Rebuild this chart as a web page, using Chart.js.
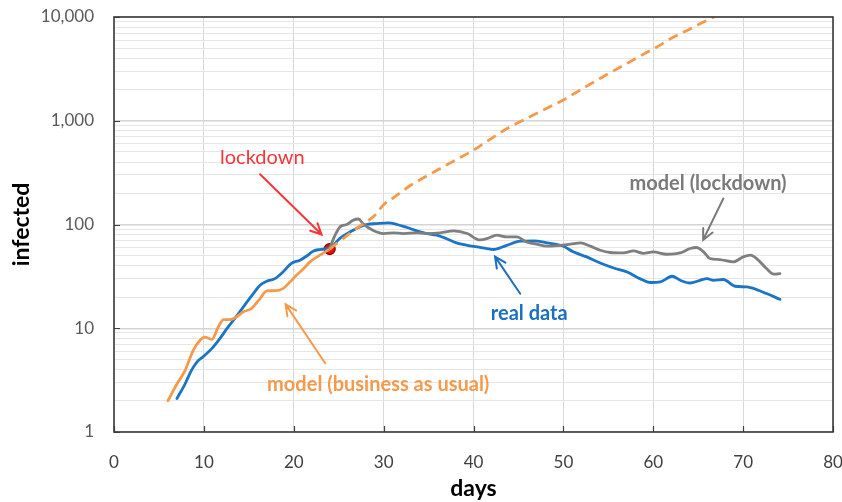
<!DOCTYPE html>
<html>
<head>
<meta charset="utf-8">
<script src="https://cdn.jsdelivr.net/npm/chart.js@4.4.1/dist/chart.umd.min.js"></script>
<style>
  html, body { margin: 0; padding: 0; background: #ffffff; }
  #wrap { width: 842px; height: 502px; }
</style>
</head>
<body>
<div id="wrap"><canvas id="chart" width="842" height="502"></canvas></div>
<script>
// Model run without intervention, up to the lockdown day
const bauDays   = [6, 7, 7.9, 8.8, 9.6, 10.1, 10.9, 11.6, 12.2, 12.9, 13.7, 14.4, 15.3, 16.25, 17, 17.9, 18.8, 19.6, 20.3, 21.1, 21.8, 22.6, 23.3, 24];
const bauValues = [2, 2.9, 3.9, 6.1, 7.7, 8.2, 7.8, 10.3, 12.1, 12.1, 13, 14.4, 15.5, 19.3, 22.9, 23, 24.1, 28, 32.4, 37.6, 43.6, 48.7, 53.2, 58];

// Same model carried on past the lockdown (dashed)
const projDays   = [24, 25, 26, 27, 28, 29, 30, 31, 32, 33, 34, 35, 36, 37, 38, 39, 40, 41, 42, 43, 44, 45, 46, 47, 48, 49, 50, 51, 52, 53, 54, 55, 56, 57, 58, 59, 60, 61, 62, 63, 64, 65, 66, 67];
const projValues = [58, 68, 79, 92, 105, 122, 155, 179, 207, 239, 268, 300, 335, 374, 418, 466, 520, 593, 676, 769, 869, 961, 1062, 1175, 1298, 1435, 1585, 1784, 2009, 2259, 2541, 2838, 3170, 3540, 3954, 4416, 4932, 5508, 6252, 6887, 7586, 8433, 9311, 10300];

// Observed infections
const realDays   = [7, 7.9, 8.6, 9.2, 9.9, 10.9, 11.8, 12.7, 13.7, 14.6, 15.5, 16.25, 17, 17.9, 18.8, 19.7, 20.7, 21.4, 22.2, 22.9, 23.7, 24, 25.1, 26.3, 27.4, 28.1, 29.2, 30.5, 31.5, 32.6, 33.7, 34.8, 35.9, 37, 38.1, 39.3, 40.4, 41.5, 42.2, 43.7, 45.2, 46.7, 48.2, 50, 51.1, 52.6, 54.1, 55.6, 57.1, 58.5, 59.7, 60.8, 62.1, 63, 64.1, 65.2, 66, 66.7, 67.8, 69.1, 70.4, 71.5, 72.6, 74.1];
const realValues = [2.1, 2.9, 3.9, 4.7, 5.3, 6.4, 8, 10.3, 13.3, 17, 21.6, 26, 28.4, 30.1, 34.9, 42, 45.3, 49.4, 55.6, 57.4, 58.5, 59, 73, 85, 95, 100, 102, 103.6, 100, 93.5, 86.7, 81.8, 78.9, 73, 66.5, 63, 60.8, 58.6, 57.4, 63, 69, 69.5, 66.5, 61.8, 54.5, 48.7, 42.6, 38.1, 34.9, 30.1, 27.6, 28, 31.7, 29, 27.3, 29, 30.1, 29, 29.5, 25.4, 25, 23.6, 21.6, 19];

// Model with the lockdown applied from day 24
const lockDays   = [24, 24.6, 25.2, 25.9, 26.6, 27.2, 27.7, 28.8, 30, 31.1, 32.2, 33.7, 34.8, 36.3, 37.8, 39.3, 40.7, 41.5, 42.6, 43.7, 44.8, 45.9, 47, 48.2, 49.6, 50.8, 51.9, 53, 54.1, 55.2, 56.7, 57.8, 58.9, 60, 61.5, 63, 64.1, 64.8, 65.6, 66.3, 67.4, 68.9, 70, 70.8, 71.5, 72.6, 73.4, 74.1];
const lockValues = [59, 78.9, 96, 100, 110, 113, 102, 88, 81.8, 83, 81.8, 83, 81.8, 83, 86.7, 81.8, 71, 73, 78.9, 75.9, 75.9, 67.9, 64.6, 61.8, 63, 64.6, 66.5, 61.8, 56.5, 53.7, 53.2, 55.6, 52.7, 54.5, 51.7, 53.2, 58.7, 60, 54.5, 47, 45.9, 43.6, 48.7, 50.6, 47, 37.6, 33.2, 33.6];

// Lockdown marker
const lockdownDay = 24;
const lockdownValue = 58;

// Axis ticks
const xTicks = [0, 10, 20, 30, 40, 50, 60, 70, 80];
const yDecades = [1, 10, 100, 1000, 10000];

const toPoints = (xs, ys) => xs.map((x, i) => ({ x: x, y: ys[i] }));

const BLUE = '#1a75c4';
const ORANGE = '#f59a4a';
const GREY = '#7f7f7f';
const FONT = 'Lato, "Open Sans", sans-serif';

// Callouts, placed in data units (day, infected)
const callouts = [
  { text: 'lockdown', color: '#f4363a', weight: 'normal', size: 20, at: [16.5, 446], from: [16.25, 305], to: [23.1, 80] },
  { text: 'model (lockdown)', color: '#7a7a7a', weight: 'bold', size: 20, at: [66.1, 250], from: [67.8, 178], to: [65.55, 71] },
  { text: 'real data', color: '#1a6fc0', weight: 'bold', size: 20, at: [46.2, 13.9], from: [45.2, 21.5], to: [42.4, 49] },
  { text: 'model (business as usual)', color: '#f59a4a', weight: 'bold', size: 20, at: [29.4, 2.88], from: [23.5, 4.6], to: [19.1, 17] }
];

const framePlugin = {
  id: 'frame',
  afterDatasetsDraw(chart) {
    const { ctx, chartArea: a, scales } = chart;
    ctx.save();
    // inner tick marks
    ctx.strokeStyle = '#404040';
    ctx.lineWidth = 1.2;
    ctx.beginPath();
    xTicks.forEach(v => {
      const px = Math.round(scales.x.getPixelForValue(v)) + 0.5;
      ctx.moveTo(px, a.bottom);
      ctx.lineTo(px, a.bottom - 6);
    });
    yDecades.forEach(v => {
      const py = Math.round(scales.y.getPixelForValue(v)) + 0.5;
      ctx.moveTo(a.left, py);
      ctx.lineTo(a.left + 6, py);
    });
    ctx.stroke();
    // plot border
    ctx.strokeStyle = '#3a3a3a';
    ctx.lineWidth = 1.6;
    ctx.strokeRect(a.left, a.top, a.right - a.left, a.bottom - a.top);
    ctx.restore();
  },
  afterDraw(chart) {
    const { ctx, scales } = chart;
    const px = d => [scales.x.getPixelForValue(d[0]), scales.y.getPixelForValue(d[1])];
    ctx.save();
    callouts.forEach(c => {
      ctx.font = `${c.weight} ${c.size}px ${FONT}`;
      ctx.fillStyle = c.color;
      ctx.textAlign = 'center';
      ctx.textBaseline = 'middle';
      const [tx, ty] = px(c.at);
      ctx.fillText(c.text, tx, ty);
      const [x1, y1] = px(c.from);
      const [x2, y2] = px(c.to);
      ctx.strokeStyle = c.color;
      ctx.lineWidth = 2;
      ctx.lineCap = 'round';
      ctx.beginPath();
      ctx.moveTo(x1, y1);
      ctx.lineTo(x2, y2);
      const ang = Math.atan2(y2 - y1, x2 - x1);
      const len = 12, spread = 0.45;
      ctx.moveTo(x2 - len * Math.cos(ang - spread), y2 - len * Math.sin(ang - spread));
      ctx.lineTo(x2, y2);
      ctx.lineTo(x2 - len * Math.cos(ang + spread), y2 - len * Math.sin(ang + spread));
      ctx.stroke();
    });
    ctx.restore();
  }
};

const lineStyle = {
  fill: false,
  pointRadius: 0,
  borderWidth: 2.8,
  cubicInterpolationMode: 'monotone',
  borderJoinStyle: 'round',
  borderCapStyle: 'round'
};

new Chart(document.getElementById('chart'), {
  type: 'line',
  data: {
    datasets: [
      Object.assign({ label: 'model (business as usual)', data: toPoints(projDays, projValues), borderColor: ORANGE, borderDash: [10, 6] }, lineStyle, { borderCapStyle: 'butt' }),
      Object.assign({ label: 'model (lockdown)', data: toPoints(lockDays, lockValues), borderColor: GREY }, lineStyle),
      Object.assign({ label: 'model (business as usual)', data: toPoints(bauDays, bauValues), borderColor: ORANGE }, lineStyle),
      Object.assign({ label: 'real data', data: toPoints(realDays, realValues), borderColor: BLUE }, lineStyle),
      {
        label: 'lockdown',
        data: [{ x: lockdownDay, y: lockdownValue }],
        showLine: false,
        pointRadius: 5.5,
        pointBackgroundColor: '#e8100c',
        pointBorderColor: '#7a0000',
        pointBorderWidth: 1.2
      }
    ]
  },
  options: {
    responsive: false,
    animation: false,
    devicePixelRatio: 1,
    layout: { padding: { top: 17, right: 9, left: 0, bottom: 0 } },
    plugins: { legend: { display: false }, tooltip: { enabled: false } },
    scales: {
      x: {
        type: 'linear',
        min: 0,
        max: 80,
        afterBuildTicks(s) { s.ticks = xTicks.map(v => ({ value: v })); },
        afterFit(s) { s.height = 70; s.paddingLeft = 0; s.paddingRight = 0; },
        grid: { color: '#d9d9d9', lineWidth: 1, drawTicks: false },
        border: { display: false },
        ticks: { padding: 20, color: '#404040', font: { family: FONT, size: 17 }, maxRotation: 0 },
        title: { display: true, text: 'days', color: '#000', padding: { top: 0, bottom: 0 }, font: { family: FONT, size: 23, weight: 'bold' } }
      },
      y: {
        type: 'logarithmic',
        min: 1,
        max: 10000,
        afterBuildTicks(s) {
          const t = [];
          for (let d = 0; d < yDecades.length - 1; d++) {
            for (let m = 1; m < 10; m++) t.push({ value: yDecades[d] * m });
          }
          t.push({ value: yDecades[yDecades.length - 1] });
          s.ticks = t;
        },
        afterFit(s) { s.width = 114; s.paddingTop = 0; s.paddingBottom = 0; },
        grid: {
          drawTicks: false,
          color: ctx => (yDecades.includes(ctx.tick.value) ? '#d4d4d4' : '#e6e6e6'),
          lineWidth: ctx => (yDecades.includes(ctx.tick.value) ? 1.5 : 1)
        },
        border: { display: false },
        ticks: {
          padding: 20,
          color: '#595959',
          autoSkip: false,
          font: { family: FONT, size: 17 },
          callback: v => (yDecades.includes(v) ? v.toLocaleString('en-US') : '')
        },
        title: { display: true, text: 'infected', color: '#000', padding: { top: 8, bottom: 0 }, font: { family: FONT, size: 23, weight: 'bold' } }
      }
    }
  },
  plugins: [framePlugin]
});
</script>
</body>
</html>
